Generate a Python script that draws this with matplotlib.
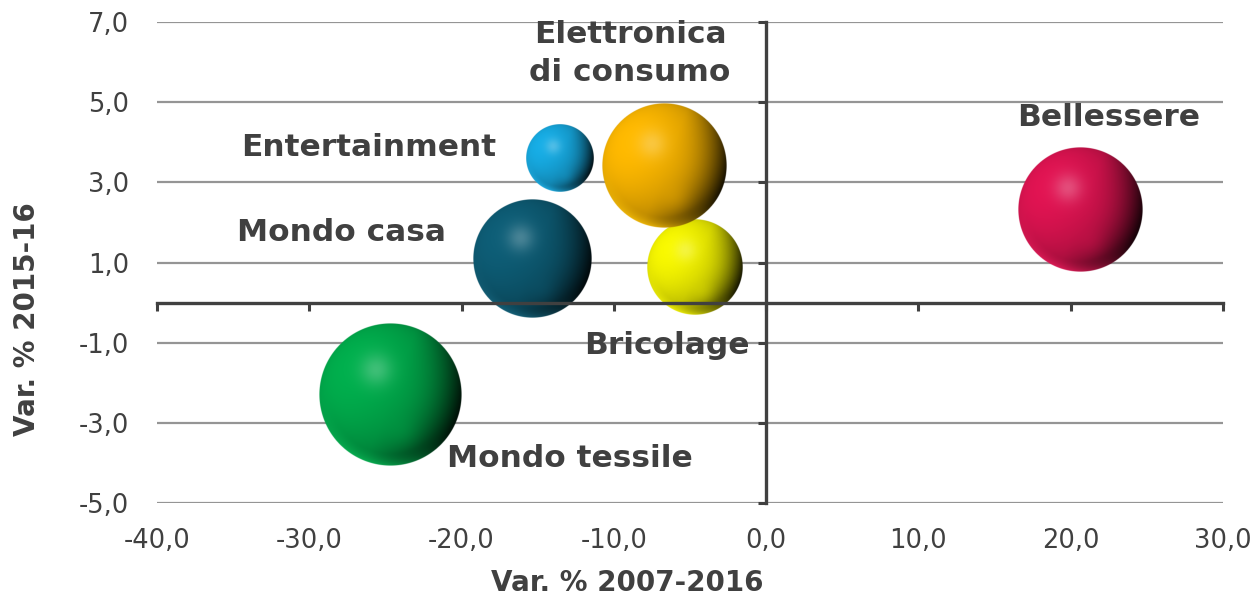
import numpy as np
import matplotlib
matplotlib.use("Agg")
import matplotlib.pyplot as plt
from matplotlib.colors import to_rgb
from matplotlib.ticker import FuncFormatter

# --- data -------------------------------------------------------------
categories = ["Entertainment", "Elettronica\ndi consumo", "Mondo casa",
              "Bricolage", "Bellessere", "Mondo tessile"]
var_2007_2016 = [-13.6, -6.7, -15.4, -4.7, 20.6, -24.7]
var_2015_16 = [3.6, 3.4, 1.1, 0.9, 2.3, -2.3]
bubble_size = [22.3, 76.3, 69.1, 45.7, 76.3, 100.0]

x_ticks = [-40, -30, -20, -10, 0, 10, 20, 30]
y_ticks = [-5, -3, -1, 1, 3, 5, 7]

# --- style -------------------------------------------------------------
colors = ["#16a6dc", "#f5b200", "#0d5a72", "#eeee00", "#d8134f", "#00a84a"]
draw_order = [3, 0, 2, 1, 4, 5]
# label placement: (dx, dy) in pixels from bubble centre, horizontal alignment
label_place = {
    "Entertainment": (-63, 2, "right"),
    "Elettronica\ndi consumo": (-34, 85, "center"),
    "Mondo casa": (-86, 17, "right"),
    "Bricolage": (55, -87, "right"),
    "Bellessere": (29, 84, "center"),
    "Mondo tessile": (57, -72, "left"),
}
TEXT = "#404040"
R_MAX_PX = 71.0


def comma_fmt(v, _pos=None):
    return f"{v:.1f}".replace(".", ",")


def sphere_rgba(color, n=321):
    """Shaded glossy sphere as an RGBA array."""
    rgb = np.array(to_rgb(color))
    lin = np.linspace(-1, 1, n)
    X, Y = np.meshgrid(lin, -lin)
    R2 = X ** 2 + Y ** 2
    r = np.sqrt(R2)
    Z = np.sqrt(np.clip(1 - R2, 0, 1))
    with np.errstate(invalid="ignore", divide="ignore"):
        ux = np.where(r > 0, X / r, 0)
        uy = np.where(r > 0, Y / r, 0)

    L = np.array([-0.55, 0.4, 0.75])
    L = L / np.linalg.norm(L)
    ndl = X * L[0] + Y * L[1] + Z * L[2]
    wrap = np.clip((ndl + 0.45) / 1.45, 0, 1)
    shade = 0.55 + 0.5 * wrap
    # shadowed crescent on the right / lower right
    d = np.array([0.9, -0.35])
    d = d / np.linalg.norm(d)
    dark = np.clip(ux * d[0] + uy * d[1], 0, 1) ** 1.3 * np.clip(r, 0, 1) ** 3
    shade = shade * (1 - 0.85 * dark)
    col = rgb[None, None, :] * shade[..., None]

    # soft highlight, upper left
    spot = np.exp(-((X + 0.2) ** 2 + (Y - 0.35) ** 2) / 0.05)
    light = rgb + (1 - rgb) * 0.4
    w = 0.6 * spot[..., None]
    col = col * (1 - w) + light * w
    # secondary reflection, lower middle
    patch = np.exp(-((X - 0.15) ** 2 + (Y + 0.5) ** 2) / 0.05) * 0.3
    col = col * (1 - patch[..., None]) + rgb * 0.95 * patch[..., None]
    # bright rim along the bottom edge
    rim_dir = np.clip(ux * -0.4 + uy * -0.92, 0, 1) ** 2
    rim = rim_dir * np.clip((r - 0.82) / 0.18, 0, 1) ** 1.5 * 0.8
    rim_col = np.clip(rgb * 1.05 + 0.04, 0, 1)
    col = col * (1 - rim[..., None]) + rim_col * rim[..., None]
    col = np.clip(col, 0, 1)
    alpha = np.clip((1 - r) * n / 2.0, 0, 1)
    return np.dstack([col, alpha])


# --- figure --------------------------------------------------------------
W, H = 1255, 596
fig = plt.figure(figsize=(W / 100, H / 100), dpi=100)
rect = [157 / W, 93 / H, 1066 / W, 481 / H]
ax = fig.add_axes(rect)
ax.set_xlim(x_ticks[0], x_ticks[-1])
ax.set_ylim(y_ticks[0], y_ticks[-1])

# crossing axes through the origin
for side in ("top", "right"):
    ax.spines[side].set_visible(False)
ax.spines["left"].set_position(("data", 0))
ax.spines["bottom"].set_position(("data", 0))
for side in ("left", "bottom"):
    ax.spines[side].set_color(TEXT)
    ax.spines[side].set_linewidth(2.4)
    ax.spines[side].set_zorder(5)
ax.set_xticks(x_ticks)
ax.set_yticks(y_ticks)
ax.tick_params(axis="both", direction="out", length=6, width=2.2,
               color=TEXT, labelleft=False, labelbottom=False)
ax.yaxis.grid(True, color="#959595", linewidth=1.6)
ax.xaxis.grid(False)
ax.set_axisbelow(True)

# bubbles
p0 = ax.transData.transform((0, 0))
p1 = ax.transData.transform((1, 1))
sx, sy = p1[0] - p0[0], p1[1] - p0[1]
smax = max(bubble_size)
for i in draw_order:
    rpx = R_MAX_PX * np.sqrt(bubble_size[i] / smax)
    dx, dy = rpx / sx, rpx / sy
    x, y = var_2007_2016[i], var_2015_16[i]
    ax.imshow(sphere_rgba(colors[i]), extent=(x - dx, x + dx, y - dy, y + dy),
              aspect="auto", zorder=3, interpolation="antialiased")

ax.set_xlim(x_ticks[0], x_ticks[-1])
ax.set_ylim(y_ticks[0], y_ticks[-1])

# data labels
for i, name in enumerate(categories):
    ox, oy, ha = label_place[name]
    ax.annotate(name, (var_2007_2016[i], var_2015_16[i]), xytext=(ox, oy),
                textcoords="offset pixels", ha=ha, va="baseline",
                multialignment="center", linespacing=1.4,
                fontsize=22.5, fontweight="bold", color=TEXT, zorder=6,
                family="DejaVu Sans")

# tick labels and titles along the outer edges
lab = fig.add_axes(rect, sharex=ax, sharey=ax)
lab.set_frame_on(False)
lab.patch.set_visible(False)
lab.tick_params(axis="both", length=0, labelsize=18.5, labelcolor=TEXT)
lab.tick_params(axis="y", pad=20)
lab.tick_params(axis="x", pad=18)
lab.xaxis.set_major_formatter(FuncFormatter(comma_fmt))
lab.yaxis.set_major_formatter(FuncFormatter(comma_fmt))
lab.set_xlabel("Var. % 2007-2016", fontsize=20, fontweight="bold",
               color=TEXT, va="center")
lab.set_ylabel("Var. % 2015-16", fontsize=20, fontweight="bold",
               color=TEXT, va="center")
lab.xaxis.set_label_coords(0.441, -0.166)
lab.yaxis.set_label_coords(-0.122, 0.383)

fig.savefig("out.png", dpi=100)
